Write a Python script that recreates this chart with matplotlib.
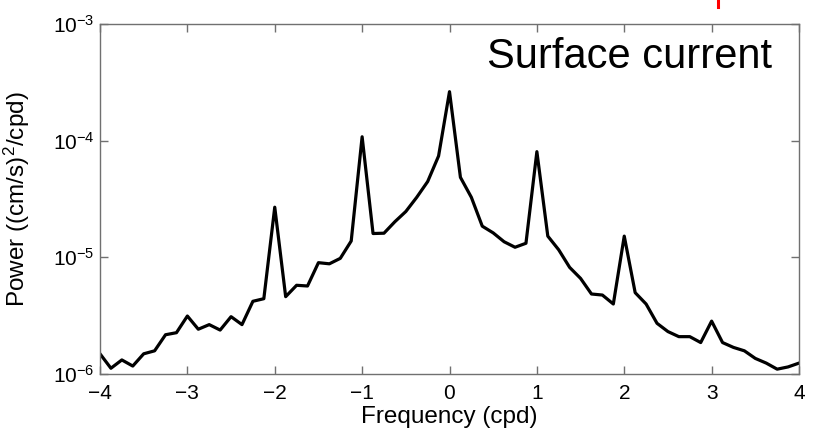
import numpy as np
import matplotlib
matplotlib.use("Agg")
import matplotlib.pyplot as plt
from matplotlib.lines import Line2D

plt.rcParams['font.family'] = ['Liberation Sans', 'DejaVu Sans']
plt.rcParams['mathtext.fontset'] = 'custom'
plt.rcParams['mathtext.rm'] = 'Liberation Sans'
plt.rcParams['mathtext.it'] = 'Liberation Sans:italic'
plt.rcParams['mathtext.bf'] = 'Liberation Sans:bold'

# Frequency grid (cpd), step 1/8
frequency = [-4.0, -3.875, -3.75, -3.625, -3.5, -3.375, -3.25, -3.125,
             -3.0, -2.875, -2.75, -2.625, -2.5, -2.375, -2.25, -2.125,
             -2.0, -1.875, -1.75, -1.625, -1.5, -1.375, -1.25, -1.125,
             -1.0, -0.875, -0.75, -0.625, -0.5, -0.375, -0.25, -0.125,
             0.0, 0.125, 0.25, 0.375, 0.5, 0.625, 0.75, 0.875,
             1.0, 1.125, 1.25, 1.375, 1.5, 1.625, 1.75, 1.875,
             2.0, 2.125, 2.25, 2.375, 2.5, 2.625, 2.75, 2.875,
             3.0, 3.125, 3.25, 3.375, 3.5, 3.625, 3.75, 3.875, 4.0]

power = [1.49e-6, 1.12e-6, 1.32e-6, 1.17e-6, 1.49e-6, 1.58e-6, 2.17e-6, 2.26e-6,
         3.14e-6, 2.42e-6, 2.65e-6, 2.38e-6, 3.10e-6, 2.65e-6, 4.20e-6, 4.42e-6,
         2.69e-5, 4.60e-6, 5.76e-6, 5.68e-6, 9.0e-6, 8.8e-6, 9.8e-6, 1.38e-5,
         1.08e-4, 1.6e-5, 1.61e-5, 2.02e-5, 2.47e-5, 3.27e-5, 4.46e-5, 7.39e-5,
         2.63e-4, 4.85e-5, 3.27e-5, 1.85e-5, 1.62e-5, 1.36e-5, 1.22e-5, 1.32e-5,
         8.05e-5, 1.52e-5, 1.16e-5, 8.2e-6, 6.6e-6, 4.85e-6, 4.75e-6, 3.98e-6,
         1.52e-5, 4.98e-6, 3.98e-6, 2.72e-6, 2.31e-6, 2.09e-6, 2.09e-6, 1.86e-6,
         2.84e-6, 1.86e-6, 1.69e-6, 1.58e-6, 1.36e-6, 1.24e-6, 1.10e-6, 1.15e-6, 1.24e-6]

xticks = [-4, -3, -2, -1, 0, 1, 2, 3, 4]
yticks = [1e-6, 1e-5, 1e-4, 1e-3]
ytick_labels = [r'$\mathregular{10^{-6}}$', r'$\mathregular{10^{-5}}$',
                r'$\mathregular{10^{-4}}$', r'$\mathregular{10^{-3}}$']

fig = plt.figure(figsize=(8.14, 4.32), dpi=100)
ax = fig.add_axes([100/814, 58/432, 699/814, 350/432])

ax.plot(frequency, power, color='black', linewidth=2.3)
ax.set_yscale('log')
ax.set_xlim(-4, 4)
ax.set_ylim(1e-6, 1e-3)

ax.set_xticks(xticks)
ax.set_xticklabels([f'{t}'.replace('-', '\u2212') for t in xticks])
ax.set_yticks(yticks)
ax.set_yticklabels(ytick_labels)
ax.yaxis.set_minor_locator(matplotlib.ticker.NullLocator())

axis_gray = '#707070'
for s in ax.spines.values():
    s.set_color(axis_gray)
    s.set_linewidth(1.0)
ax.tick_params(axis='both', which='major', direction='in', length=6,
               width=1.0, color=axis_gray, labelsize=15, labelcolor='black',
               top=True, right=True)
ax.tick_params(axis='x', pad=7)
ax.tick_params(axis='y', pad=4)

ax.set_xlabel('Frequency (cpd)', fontsize=17.5)
ax.set_ylabel('Power ((cm/s)$^\\mathregular{2}$/cpd)', fontsize=17.5)
ax.xaxis.set_label_coords(0.5, -0.09)
ax.yaxis.set_label_coords(-0.097, 0.5)

ax.text(0.961, 0.962, 'Surface current', transform=ax.transAxes,
        ha='right', va='top', fontsize=30, color='black')

fig.add_artist(Line2D([718/814, 718/814], [1.0, 1 - 7/432],
                      transform=fig.transFigure, color='red', linewidth=2.2))

fig.savefig('out.png', dpi=100)
